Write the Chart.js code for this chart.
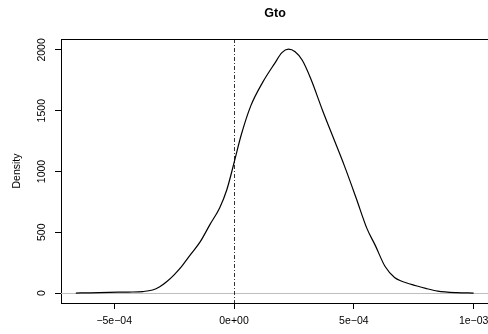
<!DOCTYPE html>
<html>
<head>
<meta charset="utf-8">
<title>Gto</title>
<script src="https://cdn.jsdelivr.net/npm/chart.js@4/dist/chart.umd.min.js"></script>
<style>
  html, body { margin: 0; padding: 0; background: #fff; overflow: hidden; }
  #wrap { width: 488px; height: 334px; }
</style>
</head>
<body>
<div id="wrap"><canvas id="densChart" width="488" height="334"></canvas></div>
<script>
// ---------- DATA ----------
const chartTitle = "Gto";
const yLabel = "Density";
// density estimate, x in units of 1e-4
const densX = [-6.6, -6.0, -5.2, -4.4, -3.8, -3.4, -3.1, -2.8, -2.5, -2.2, -1.8, -1.4, -1.0, -0.6, -0.3, 0,
  0.3, 0.7, 1.2, 1.7, 2.0, 2.27, 2.55, 2.85, 3.2, 3.7, 4.15, 4.6, 5.1, 5.55, 5.9, 6.3, 6.7, 7.0, 7.6, 8.0, 8.5, 9.3, 10.0];
const densY = [0, 2, 6, 8, 12, 25, 52, 95, 150, 215, 320, 425, 565, 700, 850, 1070,
  1300, 1540, 1735, 1890, 1978, 2006, 1985, 1915, 1765, 1500, 1275, 1050, 780, 530, 390, 220, 128, 97, 60, 38, 16, 3, 0];
const xTicks = [-5e-4, 0, 5e-4, 1e-3];
const xTickLabels = ["\u22125e\u221204", "0e+00", "5e\u221204", "1e\u221203"];
const yTicks = [0, 500, 1000, 1500, 2000];
const vlineAt = 0;   // dashed reference line
const hlineAt = 0;   // grey baseline

const points = densX.map((x, i) => ({ x: x * 1e-4, y: densY[i] }));

// ---------- EXTRA DRAWING (R style box, ref lines, rotated y labels, titles) ----------
const rStyle = {
  id: "rStyle",
  beforeDatasetsDraw(chart) {
    const { ctx, chartArea: a, scales: { x, y } } = chart;
    ctx.save();
    // grey horizontal line at 0
    const hy = Math.round(y.getPixelForValue(hlineAt)) + 0.5;
    ctx.strokeStyle = "#bebebe";
    ctx.lineWidth = 1;
    ctx.beginPath();
    ctx.moveTo(a.left, hy);
    ctx.lineTo(a.right, hy);
    ctx.stroke();
    // dot-dash vertical line at 0
    const vx = Math.round(x.getPixelForValue(vlineAt)) + 0.5;
    ctx.strokeStyle = "#333";
    ctx.setLineDash([4, 2, 1, 2]);
    ctx.beginPath();
    ctx.moveTo(vx, a.top);
    ctx.lineTo(vx, a.bottom);
    ctx.stroke();
    ctx.restore();
  },
  afterDraw(chart) {
    const { ctx, chartArea: a, scales: { y } } = chart;
    ctx.save();
    // top of the box
    ctx.strokeStyle = "#000";
    ctx.lineWidth = 1;
    ctx.beginPath();
    ctx.moveTo(a.left, a.top + 0.5);
    ctx.lineTo(a.right, a.top + 0.5);
    ctx.stroke();

    // y tick labels, rotated like R's las=0
    ctx.fillStyle = "#000";
    ctx.font = "10.5px 'Liberation Sans', Arial, sans-serif";
    ctx.textAlign = "center";
    ctx.textBaseline = "middle";
    yTicks.forEach(v => {
      ctx.save();
      ctx.translate(42, y.getPixelForValue(v));
      ctx.rotate(-Math.PI / 2);
      ctx.fillText(String(v), 0, 0);
      ctx.restore();
    });

    // axis title
    ctx.save();
    ctx.translate(17, (a.top + a.bottom) / 2);
    ctx.rotate(-Math.PI / 2);
    ctx.fillText(yLabel, 0, 0);
    ctx.restore();

    // main title
    ctx.font = "bold 12.5px 'Liberation Sans', Arial, sans-serif";
    ctx.fillText(chartTitle, 275, 14);
    ctx.restore();
  }
};

new Chart(document.getElementById("densChart"), {
  type: "line",
  data: {
    datasets: [{
      data: points,
      borderColor: "#000",
      borderWidth: 1.2,
      pointRadius: 0,
      fill: false,
      cubicInterpolationMode: "monotone"
    }]
  },
  options: {
    responsive: false,
    animation: false,
    layout: { padding: { top: 39, left: 0, right: 0, bottom: 0 } },
    plugins: { legend: { display: false }, tooltip: { enabled: false } },
    scales: {
      x: {
        type: "linear",
        min: -7.22e-4,
        max: 1.06e-3,
        afterBuildTicks: s => { s.ticks = xTicks.map(v => ({ value: v })); },
        afterFit: s => { s.height = 31; s.paddingLeft = 0; s.paddingRight = 0; },
        border: { display: true, color: "#000", width: 1 },
        grid: { drawOnChartArea: false, drawTicks: true, tickLength: 6, color: "#000" },
        ticks: {
          color: "#000",
          padding: 6,
          maxRotation: 0,
          autoSkip: false,
          font: { family: "'Liberation Sans', Arial, sans-serif", size: 10.5 },
          callback: (v) => {
            const i = xTicks.findIndex(t => Math.abs(t - v) < 1e-9);
            return i >= 0 ? xTickLabels[i] : "";
          }
        }
      },
      y: {
        min: -82,
        max: 2090,
        afterBuildTicks: s => { s.ticks = yTicks.map(v => ({ value: v })); },
        afterFit: s => { s.width = 61; s.paddingTop = 0; s.paddingBottom = 0; },
        border: { display: true, color: "#000", width: 1 },
        grid: { drawOnChartArea: false, drawTicks: true, tickLength: 6, color: "#000" },
        ticks: { display: false }
      }
    }
  },
  plugins: [rStyle]
});
</script>
</body>
</html>
